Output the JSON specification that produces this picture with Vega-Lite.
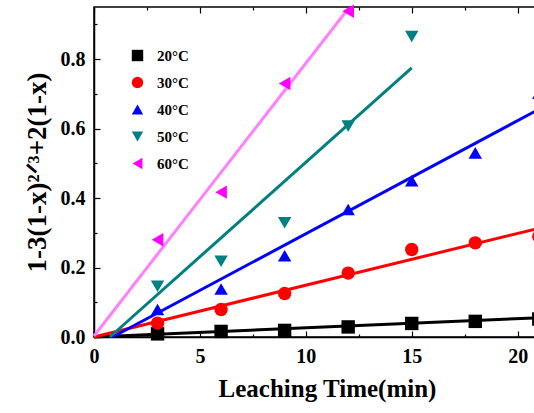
{
  "$schema": "https://vega.github.io/schema/vega-lite/v6.json",
  "autosize": {"type": "none"},
  "padding": {"left": 94, "top": 7, "right": 0, "bottom": 76},
  "width": 466,
  "height": 330,
  "background": "white",
  "config": {
    "view": {"stroke": "black", "strokeWidth": 1.5},
    "font": "Liberation Serif",
    "axis": {
      "grid": false,
      "labelFlush": false,
      "domainColor": "black",
      "domainWidth": 1.5,
      "tickColor": "black",
      "tickWidth": 1.2,
      "labelFont": "Liberation Serif",
      "labelFontWeight": "bold",
      "labelFontSize": 20,
      "labelColor": "black",
      "titleFont": "Liberation Serif",
      "titleFontWeight": "bold",
      "titleFontSize": 25,
      "titleColor": "black"
    },
    "legend": {
      "labelFont": "Liberation Serif",
      "labelFontWeight": "bold",
      "labelFontSize": 15,
      "labelColor": "black"
    }
  },
  "datasets": {
    "points": [
      {"series": "20°C", "t": 3, "y": 0.009},
      {"series": "20°C", "t": 6, "y": 0.016},
      {"series": "20°C", "t": 9, "y": 0.019},
      {"series": "20°C", "t": 12, "y": 0.029},
      {"series": "20°C", "t": 15, "y": 0.039},
      {"series": "20°C", "t": 18, "y": 0.045},
      {"series": "20°C", "t": 21, "y": 0.052},
      {"series": "30°C", "t": 3, "y": 0.040},
      {"series": "30°C", "t": 6, "y": 0.079},
      {"series": "30°C", "t": 9, "y": 0.125},
      {"series": "30°C", "t": 12, "y": 0.184},
      {"series": "30°C", "t": 15, "y": 0.252},
      {"series": "30°C", "t": 18, "y": 0.271},
      {"series": "30°C", "t": 21, "y": 0.289},
      {"series": "40°C", "t": 3, "y": 0.079},
      {"series": "40°C", "t": 6, "y": 0.138},
      {"series": "40°C", "t": 9, "y": 0.234},
      {"series": "40°C", "t": 12, "y": 0.367},
      {"series": "40°C", "t": 15, "y": 0.450},
      {"series": "40°C", "t": 18, "y": 0.530},
      {"series": "40°C", "t": 21, "y": 0.702},
      {"series": "50°C", "t": 3, "y": 0.146},
      {"series": "50°C", "t": 6, "y": 0.218},
      {"series": "50°C", "t": 9, "y": 0.329},
      {"series": "50°C", "t": 12, "y": 0.607},
      {"series": "50°C", "t": 15, "y": 0.865},
      {"series": "60°C", "t": 3, "y": 0.280},
      {"series": "60°C", "t": 6, "y": 0.417},
      {"series": "60°C", "t": 9, "y": 0.730},
      {"series": "60°C", "t": 12, "y": 0.938}
    ],
    "fits": [
      {"fit": "20°C", "t": 0, "y": 0.0},
      {"fit": "20°C", "t": 22, "y": 0.058},
      {"fit": "30°C", "t": 0, "y": 0.0},
      {"fit": "30°C", "t": 22, "y": 0.328},
      {"fit": "40°C", "t": 0.88, "y": 0.0},
      {"fit": "40°C", "t": 22, "y": 0.688},
      {"fit": "50°C", "t": 0.75, "y": 0.0},
      {"fit": "50°C", "t": 15, "y": 0.775},
      {"fit": "60°C", "t": 0, "y": 0.003},
      {"fit": "60°C", "t": 12, "y": 0.945}
    ]
  },
  "layer": [
    {
      "data": {"name": "fits"},
      "transform": [{"filter": "datum.fit === '20°C'"}],
      "mark": {"type": "line", "strokeWidth": 3, "color": "#000000"},
      "encoding": {
        "x": {
          "field": "t", "type": "quantitative",
          "scale": {"domain": [0, 22], "nice": false, "zero": false},
          "axis": {"orient": "bottom", "values": [0, 5, 10, 15, 20], "tickSize": -6, "labelPadding": 15, "title": "Leaching Time(min)", "titlePadding": 10}
        },
        "y": {
          "field": "y", "type": "quantitative",
          "scale": {"domain": [0, 0.95], "nice": false},
          "axis": {"orient": "left", "values": [0, 0.2, 0.4, 0.6, 0.8], "format": ".1f", "tickSize": -6, "labelPadding": 15, "title": "1-3(1-x)²ᐟ³+2(1-x)", "titleFontSize": 27, "titlePadding": 9}
        }
      }
    },
    {
      "data": {"name": "fits"},
      "transform": [{"filter": "datum.fit === '30°C'"}],
      "mark": {"type": "line", "strokeWidth": 3, "color": "#FF0000"},
      "encoding": {
        "x": {"field": "t", "type": "quantitative", "axis": {"orient": "top", "values": [0, 5, 10, 15, 20], "tickSize": -6, "labels": false, "title": null, "domain": false}},
        "y": {"field": "y", "type": "quantitative", "axis": null}
      }
    },
    {
      "data": {"name": "fits"},
      "transform": [{"filter": "datum.fit === '40°C'"}],
      "mark": {"type": "line", "strokeWidth": 3, "color": "#0000FF"},
      "encoding": {
        "x": {"field": "t", "type": "quantitative", "axis": {"orient": "top", "values": [2.5, 7.5, 12.5, 17.5], "tickSize": -3, "labels": false, "title": null, "domain": false}},
        "y": {"field": "y", "type": "quantitative", "axis": null}
      }
    },
    {
      "data": {"name": "fits"},
      "transform": [{"filter": "datum.fit === '50°C'"}],
      "mark": {"type": "line", "strokeWidth": 3, "color": "#008080"},
      "encoding": {
        "x": {"field": "t", "type": "quantitative", "axis": null},
        "y": {"field": "y", "type": "quantitative", "axis": null}
      }
    },
    {
      "data": {"name": "fits"},
      "transform": [{"filter": "datum.fit === '60°C'"}],
      "mark": {"type": "line", "strokeWidth": 3, "color": "#FF80FF"},
      "encoding": {
        "x": {"field": "t", "type": "quantitative", "axis": null},
        "y": {"field": "y", "type": "quantitative", "axis": null}
      }
    },
    {
      "data": {"name": "points"},
      "mark": {"type": "point", "filled": true, "opacity": 1, "size": 180},
      "encoding": {
        "x": {
          "field": "t", "type": "quantitative",
          "axis": {"orient": "bottom", "values": [2.5, 7.5, 12.5, 17.5], "tickSize": -3, "labels": false, "title": null, "domain": false}
        },
        "y": {
          "field": "y", "type": "quantitative",
          "axis": {"orient": "left", "values": [0.1, 0.3, 0.5, 0.7, 0.9], "tickSize": -3, "labels": false, "title": null, "domain": false}
        },
        "color": {
          "field": "series", "type": "nominal",
          "scale": {"domain": ["20°C", "30°C", "40°C", "50°C", "60°C"], "range": ["#000000", "#FF0000", "#0000FF", "#008080", "#FF00FF"]},
          "legend": {"orient": "none", "legendX": 36, "legendY": 41, "title": null, "symbolSize": 130, "rowPadding": 11, "labelOffset": 12, "padding": 0}
        },
        "shape": {
          "field": "series", "type": "nominal",
          "scale": {"domain": ["20°C", "30°C", "40°C", "50°C", "60°C"], "range": ["square", "circle", "triangle-up", "triangle-down", "triangle-left"]},
          "legend": {"orient": "none", "legendX": 36, "legendY": 41, "title": null, "symbolSize": 130, "rowPadding": 11, "labelOffset": 12, "padding": 0}
        }
      }
    }
  ],
  "resolve": {"axis": {"x": "independent", "y": "independent"}}
}
